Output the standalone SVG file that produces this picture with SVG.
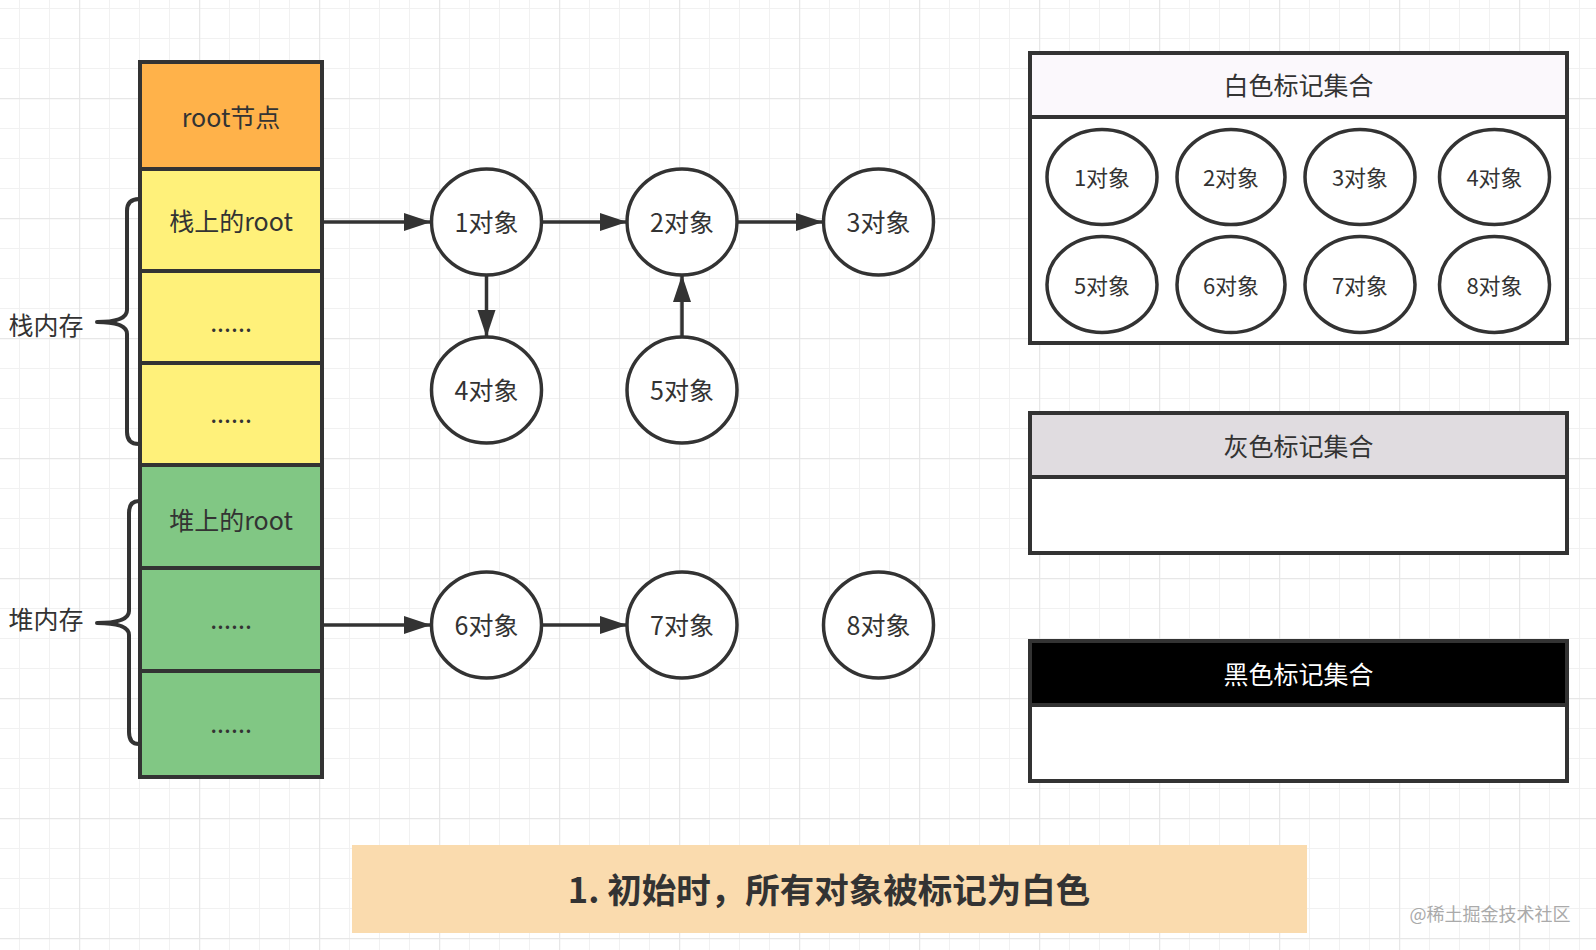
<svg xmlns="http://www.w3.org/2000/svg" width="1596" height="950" viewBox="0 0 1596 950">
<defs>
<pattern id="minor" x="19" y="8" width="30" height="30" patternUnits="userSpaceOnUse">
<path d="M0,0 H30 M0,0 V30" stroke="#f1f1f1" stroke-width="2" fill="none"/>
</pattern>
<pattern id="major" x="79" y="98" width="120" height="120" patternUnits="userSpaceOnUse">
<path d="M0,0 H120 M0,0 V120" stroke="#e7e7e7" stroke-width="2.5" fill="none"/>
</pattern>
<marker id="arr" markerUnits="userSpaceOnUse" markerWidth="28" markerHeight="20" refX="27" refY="9" orient="auto" viewBox="0 0 28 20">
<path d="M0,0 L27,9 L0,18 z" fill="#333"/>
</marker>
<style>
text{font-family:"Noto Sans CJK SC","Noto Sans",sans-serif;fill:#333;text-anchor:middle}
.t25{font-size:25px;dominant-baseline:central}
.t22{font-size:22px;dominant-baseline:central}
.dots{font-size:25px}
.cell{stroke:#333;stroke-width:4}
.obj{fill:#fff;stroke:#333;stroke-width:3.5}
.box{stroke:#333;stroke-width:4}
.conn{stroke:#333;stroke-width:3.5;fill:none;marker-end:url(#arr)}
.brace{stroke:#333;stroke-width:4;fill:none;stroke-linecap:round;stroke-linejoin:round}
</style>
</defs>
<rect width="1596" height="950" fill="#fff"/>
<rect width="1596" height="950" fill="url(#minor)"/>
<rect width="1596" height="950" fill="url(#major)"/>

<g id="stack-column">
<g id="root-node"><rect class="cell" x="140" y="62" width="182" height="107" fill="#ffb24a"/><text class="t25" x="231" y="116">root节点</text></g>
<g id="stack-root"><rect class="cell" x="140" y="169" width="182" height="102" fill="#fff17a"/><text class="t25" x="231" y="220">栈上的root</text></g>
<g id="stack-2"><rect class="cell" x="140" y="271" width="182" height="92" fill="#fff17a"/><text class="dots" x="231" y="332">......</text></g>
<g id="stack-3"><rect class="cell" x="140" y="363" width="182" height="102" fill="#fff17a"/><text class="dots" x="231" y="423">......</text></g>
<g id="heap-root"><rect class="cell" x="140" y="465" width="182" height="103" fill="#81c784"/><text class="t25" x="231" y="519">堆上的root</text></g>
<g id="heap-2"><rect class="cell" x="140" y="568" width="182" height="103" fill="#81c784"/><text class="dots" x="231" y="629">......</text></g>
<g id="heap-3"><rect class="cell" x="140" y="671" width="182" height="106" fill="#81c784"/><text class="dots" x="231" y="733">......</text></g>
</g>

<g id="stack-brace">
<path class="brace" d="M139,199 Q127,199 127,211 L127,310 Q127,322 97,322 Q127,322 127,334 L127,432 Q127,444 139,444"/>
<text class="t25" x="46" y="324">栈内存</text>
</g>
<g id="heap-brace">
<path class="brace" d="M139,501 Q129,501 129,513 L129,611 Q129,623 97,623 Q129,623 129,635 L129,732 Q129,744 139,744"/>
<text class="t25" x="46" y="618">堆内存</text>
</g>

<g id="connectors">
<line class="conn" x1="323" y1="222" x2="431" y2="222"/>
<line class="conn" x1="542" y1="222" x2="627" y2="222"/>
<line class="conn" x1="737" y1="222" x2="823" y2="222"/>
<line class="conn" x1="486.5" y1="275" x2="486.5" y2="337"/>
<line class="conn" x1="682" y1="337" x2="682" y2="275"/>
<line class="conn" x1="323" y1="625" x2="431" y2="625"/>
<line class="conn" x1="542" y1="625" x2="627" y2="625"/>
</g>

<g id="obj1"><ellipse class="obj" cx="486.5" cy="222" rx="55" ry="53"/><text class="t25" x="486.5" y="221">1对象</text></g>
<g id="obj2"><ellipse class="obj" cx="682" cy="222" rx="55" ry="53"/><text class="t25" x="682" y="221">2对象</text></g>
<g id="obj3"><ellipse class="obj" cx="878.5" cy="222" rx="55" ry="53"/><text class="t25" x="878.5" y="221">3对象</text></g>
<g id="obj4"><ellipse class="obj" cx="486.5" cy="390" rx="55" ry="53"/><text class="t25" x="486.5" y="389">4对象</text></g>
<g id="obj5"><ellipse class="obj" cx="682" cy="390" rx="55" ry="53"/><text class="t25" x="682" y="389">5对象</text></g>
<g id="obj6"><ellipse class="obj" cx="486.5" cy="625" rx="55" ry="53"/><text class="t25" x="486.5" y="624">6对象</text></g>
<g id="obj7"><ellipse class="obj" cx="682" cy="625" rx="55" ry="53"/><text class="t25" x="682" y="624">7对象</text></g>
<g id="obj8"><ellipse class="obj" cx="878.5" cy="625" rx="55" ry="53"/><text class="t25" x="878.5" y="624">8对象</text></g>

<g id="white-set">
<rect class="box" x="1030" y="53" width="537" height="290" fill="#fff"/>
<rect class="box" x="1030" y="53" width="537" height="64" fill="#fbf8fc"/>
<text class="t25" x="1298.5" y="84">白色标记集合</text>
<ellipse class="obj" cx="1102" cy="177" rx="55" ry="47.5"/><text class="t22" x="1102" y="176">1对象</text>
<ellipse class="obj" cx="1231" cy="177" rx="54" ry="47.5"/><text class="t22" x="1231" y="176">2对象</text>
<ellipse class="obj" cx="1360" cy="177" rx="55" ry="47.5"/><text class="t22" x="1360" y="176">3对象</text>
<ellipse class="obj" cx="1494.5" cy="177" rx="55" ry="47.5"/><text class="t22" x="1494.5" y="176">4对象</text>
<ellipse class="obj" cx="1102" cy="284.5" rx="55" ry="48"/><text class="t22" x="1102" y="284">5对象</text>
<ellipse class="obj" cx="1231" cy="284.5" rx="54" ry="48"/><text class="t22" x="1231" y="284">6对象</text>
<ellipse class="obj" cx="1360" cy="284.5" rx="55" ry="48"/><text class="t22" x="1360" y="284">7对象</text>
<ellipse class="obj" cx="1494.5" cy="284.5" rx="55" ry="48"/><text class="t22" x="1494.5" y="284">8对象</text>
</g>

<g id="gray-set">
<rect class="box" x="1030" y="413" width="537" height="140" fill="#fff"/>
<rect class="box" x="1030" y="413" width="537" height="64" fill="#e0dce0"/>
<text class="t25" x="1298.5" y="445">灰色标记集合</text>
</g>

<g id="black-set">
<rect class="box" x="1030" y="641" width="537" height="140" fill="#fff"/>
<rect class="box" x="1030" y="641" width="537" height="64" fill="#000"/>
<text class="t25" x="1298.5" y="673" style="fill:#fff">黑色标记集合</text>
</g>

<g id="caption">
<rect x="352" y="845" width="955" height="88" fill="#fadbae"/>
<text x="829" y="888" style="font-size:34.5px;font-weight:bold;dominant-baseline:central">1. 初始时，所有对象被标记为白色</text>
</g>

<text x="1490" y="913" style="font-size:18px;fill:#aaa;dominant-baseline:central">@稀土掘金技术社区</text>
</svg>
